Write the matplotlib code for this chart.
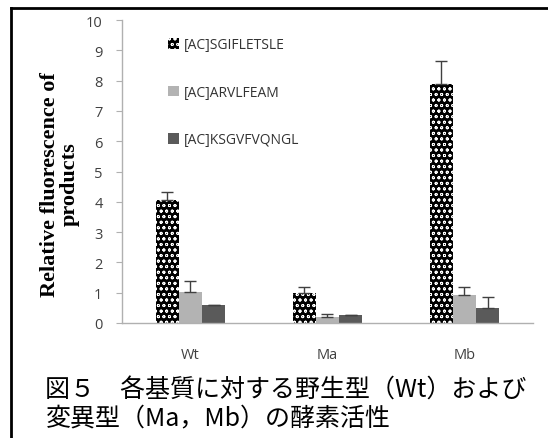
import matplotlib
matplotlib.use('Agg')
import matplotlib.pyplot as plt
import numpy as np
from matplotlib.lines import Line2D

# data
groups = ['Wt', 'Ma', 'Mb']
series = ['[AC]SGIFLETSLE', '[AC]ARVLFEAM', '[AC]KSGVFVQNGL']
values = {
    '[AC]SGIFLETSLE': [4.05, 0.99, 7.88],
    '[AC]ARVLFEAM': [1.03, 0.21, 0.92],
    '[AC]KSGVFVQNGL': [0.59, 0.25, 0.49],
}
errors = {
    '[AC]SGIFLETSLE': [0.27, 0.19, 0.78],
    '[AC]ARVLFEAM': [0.34, 0.09, 0.26],
    '[AC]KSGVFVQNGL': [0.02, 0.03, 0.38],
}
yticks = list(range(0, 11))
caption = ['図５　各基質に対する野生型（Wt）および', '変異型（Ma，Mb）の酵素活性']

plt.rcParams['hatch.linewidth'] = 0.6

fig = plt.figure(figsize=(5.48, 4.39), dpi=100)
ax = fig.add_axes([0.2226, 0.262, 0.75, 0.690])

x = np.arange(len(groups))
w = 0.17
styles = [
    dict(color='black', edgecolor='white', linewidth=0, hatch='ooo'),
    dict(color='#b3b3b3', edgecolor='none'),
    dict(color='#5a5a5a', edgecolor='none'),
]
for i, s in enumerate(series):
    pos = x + (i - 1) * w
    ax.bar(pos, values[s], w, label=s, **styles[i])
    ax.errorbar(pos, values[s], yerr=[np.zeros(3), errors[s]], fmt='none',
                ecolor='#404040', elinewidth=1, capsize=4.5, capthick=1)

ax.set_xlim(-0.5, 2.5)
ax.set_ylim(0, 10)
ax.set_yticks(yticks)
ax.set_xticks(x)
ax.set_xticklabels(groups)
for sp in ['top', 'right']:
    ax.spines[sp].set_visible(False)
for sp in ['left', 'bottom']:
    ax.spines[sp].set_color('#b0b0b0')
    ax.spines[sp].set_linewidth(1)
ax.tick_params(axis='y', length=4, color='#b0b0b0', labelsize=10.5,
               labelcolor='#404040', pad=10)
ax.tick_params(axis='x', length=0, labelsize=10.5, labelcolor='#404040', pad=17)
for lab in ax.get_xticklabels() + ax.get_yticklabels():
    lab.set_fontfamily('Open Sans')

# y axis title, placed by hand like the reference
fig.text(0.109, 0.58, 'Relative fluorescence of\nproducts', fontsize=16,
         fontweight='bold', family='Liberation Serif', rotation=90,
         ha='center', va='center', linespacing=1.0)

leg = ax.legend(loc='upper left', bbox_to_anchor=(0.306, 0.913),
                bbox_transform=fig.transFigure, frameon=False,
                prop={'family': 'Open Sans', 'size': 10},
                handlelength=0.8, handleheight=0.8, handletextpad=0.4,
                labelspacing=2.35, borderpad=0, borderaxespad=0)
for t in leg.get_texts():
    t.set_color('#333333')

# frame lines of the figure panel
fig.add_artist(Line2D([0.02, 1.0], [0.9795, 0.9795], color='black', lw=2))
fig.add_artist(Line2D([0.02, 0.02], [0.0, 0.9795], color='black', lw=2))

cap_kw = dict(fontsize=18, family=['Noto Sans CJK JP', 'DejaVu Sans'],
              ha='left', va='center')
fig.text(0.083, 1 - 391 / 439, caption[0], **cap_kw)
fig.text(0.083, 1 - 418 / 439, caption[1], **cap_kw)

fig.savefig('out.png', dpi=100)
